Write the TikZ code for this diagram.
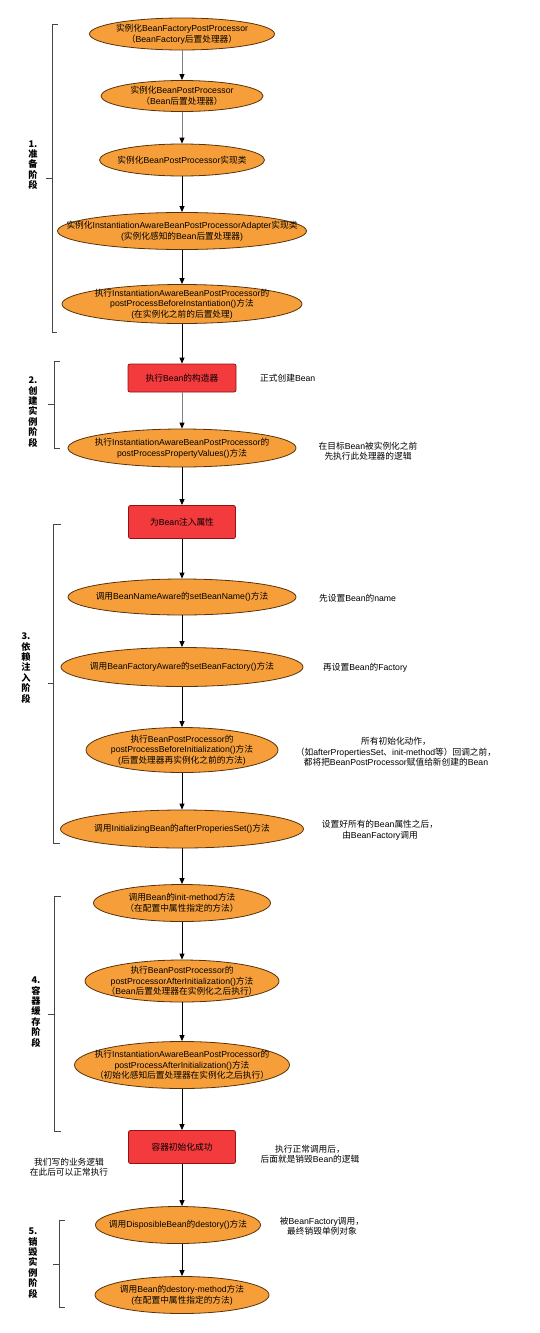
\documentclass[tikz,border=0pt]{standalone}
\usepackage{fontspec}
\usetikzlibrary{shapes.geometric,arrows.meta}
\setmainfont{Liberation Sans}
\newfontfamily\cjkfont{Noto Sans CJK SC}
\newcommand\zh[1]{{\cjkfont #1}}
\definecolor{ellfill}{RGB}{246,159,58}
\definecolor{ellborder}{RGB}{90,50,10}
\definecolor{redfill}{RGB}{243,58,60}
\definecolor{redborder}{RGB}{140,20,20}
\definecolor{brkcol}{RGB}{70,70,70}
\newcommand\txtfont{\fontsize{8.7}{10.6}\selectfont}
\newcommand\stagefont{\cjkfont\bfseries\fontsize{9.2}{10.4}\selectfont}
\tikzset{
  ell/.style={ellipse, draw=ellborder, fill=ellfill, line width=0.8pt, inner sep=0pt},
  redbox/.style={rectangle, rounded corners=2pt, draw=redborder, fill=redfill, line width=0.8pt, inner sep=0pt, font=\txtfont},
  txt/.style={align=center, font=\txtfont, inner sep=0pt, text=black},
  note/.style={align=center, font=\txtfont, inner sep=0pt, text=black},
  stage/.style={align=center, font=\stagefont, inner sep=0pt},
  brk/.style={draw=brkcol, line width=0.8pt},
  arr/.style={-{Triangle[width=5pt,length=6pt,color=black]}, line width=0.8pt, draw=black},
  garr/.style={arr, draw=gray},
}
\begin{document}
\begin{tikzpicture}[x=1pt,y=-1pt]
\useasboundingbox[fill=white] (0,0) rectangle (540,1333);

% stage 1
\node[ell, minimum width=185pt, minimum height=32pt, label={[txt]center:{\zh{实例化}BeanFactoryPostProcessor\\\zh{（}BeanFactory\zh{后置处理器）}}}] (e1) at (182,34) {};
\node[ell, minimum width=162pt, minimum height=31pt, label={[txt]center:{\zh{实例化}BeanPostProcessor\\\zh{（}Bean\zh{后置处理器）}}}] (e2) at (182,96) {};
\node[ell, minimum width=165pt, minimum height=32pt, label={[txt]center:{\zh{实例化}BeanPostProcessor\zh{实现类}}}] (e3) at (182,160) {};
\node[ell, minimum width=249pt, minimum height=37pt, label={[txt]center:{\zh{实例化}InstantiationAwareBeanPostProcessorAdapter\zh{实现类}\\(\zh{实例化感知的}Bean\zh{后置处理器})}}] (e4) at (182,231) {};
\node[ell, minimum width=240pt, minimum height=39pt, label={[txt]center:{\zh{执行}InstantiationAwareBeanPostProcessor\zh{的}\\postProcessBeforeInstantiation()\zh{方法}\\(\zh{在实例化之前的后置处理})}}] (e5) at (182,304) {};

% stage 2
\node[redbox, minimum width=108pt, minimum height=28pt] (r1) at (182,378) {\zh{执行}Bean\zh{的构造器}};
\node[note, anchor=west] (n1) at (260,378) {\zh{正式创建}Bean};
\node[ell, minimum width=228pt, minimum height=38pt, label={[txt]center:{\zh{执行}InstantiationAwareBeanPostProcessor\zh{的}\\postProcessPropertyValues()\zh{方法}}}] (e6) at (182,448) {};
\node[note] (n2) at (368,451) {\zh{在目标}Bean\zh{被实例化之前}\\\zh{先执行此处理器的逻辑}};

% stage 3
\node[redbox, minimum width=107pt, minimum height=33pt] (r2) at (182,522) {\zh{为}Bean\zh{注入属性}};
\node[ell, minimum width=228pt, minimum height=36pt, label={[txt]center:{\zh{调用}BeanNameAware\zh{的}setBeanName()\zh{方法}}}] (e7) at (182,597) {};
\node[note, anchor=west] (n3) at (319,598) {\zh{先设置}Bean\zh{的}name};
\node[ell, minimum width=242pt, minimum height=39pt, label={[txt]center:{\zh{调用}BeanFactoryAware\zh{的}setBeanFactory()\zh{方法}}}] (e8) at (182,667) {};
\node[note, anchor=west] (n4) at (323,668) {\zh{再设置}Bean\zh{的}Factory};
\node[ell, minimum width=192pt, minimum height=45pt, label={[txt]center:{\zh{执行}BeanPostProcessor\zh{的}\\postProcessBeforeInitialization()\zh{方法}\\(\zh{后置处理器再实例化之前的方法})}}] (e9) at (182,750) {};
\node[note] (n5) at (396,752) {\zh{所有初始化动作，}\\\zh{（如}afterPropertiesSet\zh{、}init-method\zh{等）回调之前，}\\\zh{都将把}BeanPostProcessor\zh{赋值给新创建的}Bean};
\node[ell, minimum width=243pt, minimum height=38pt, label={[txt]center:{\zh{调用}InitializingBean\zh{的}afterProperiesSet()\zh{方法}}}] (e10) at (182,829) {};
\node[note] (n6) at (380,830) {\zh{设置好所有的}Bean\zh{属性之后，}\\\zh{由}BeanFactory\zh{调用}};

% stage 4
\node[ell, minimum width=177pt, minimum height=37pt, label={[txt]center:{\zh{调用}Bean\zh{的}init-method\zh{方法}\\\zh{（在配置中属性指定的方法）}}}] (e11) at (182,903) {};
\node[ell, minimum width=194pt, minimum height=42pt, label={[txt]center:{\zh{执行}BeanPostProcessor\zh{的}\\postProcessorAfterInitialization()\zh{方法}\\\zh{（}Bean\zh{后置处理器在实例化之后执行）}}}] (e12) at (182,981) {};
\node[ell, minimum width=215pt, minimum height=47pt, label={[txt]center:{\zh{执行}InstantiationAwareBeanPostProcessor\zh{的}\\postProcessAfterInitialization()\zh{方法}\\\zh{（初始化感知后置处理器在实例化之后执行）}}}] (e13) at (182,1065) {};
\node[redbox, minimum width=107pt, minimum height=33pt] (r3) at (182,1147) {\zh{容器初始化成功}};
\node[note] (n7) at (69,1167) {\zh{我们写的业务逻辑}\\\zh{在此后可以正常执行}};
\node[note] (n8) at (310,1154) {\zh{执行正常调用后，}\\\zh{后面就是销毁}Bean\zh{的逻辑}};

% stage 5
\node[ell, minimum width=165pt, minimum height=37pt, label={[txt]center:{\zh{调用}DisposibleBean\zh{的}destory()\zh{方法}}}] (e14) at (178,1225) {};
\node[note] (n9) at (322,1226) {\zh{被}BeanFactory\zh{调用，}\\\zh{最终销毁单例对象}};
\node[ell, minimum width=174pt, minimum height=37pt, label={[txt]center:{\zh{调用}Bean\zh{的}destory-method\zh{方法}\\(\zh{在配置中属性指定的方法})}}] (e15) at (182,1295) {};

% connectors
\draw[garr] (e1) -- (e2);
\draw[garr] (e2) -- (e3);
\draw[arr] (e3) -- (e4);
\draw[arr] (e4) -- (e5);
\draw[arr] (e5) -- (r1);
\draw[garr] (r1) -- (e6);
\draw[arr] (e6) -- (r2);
\draw[arr] (r2) -- (e7);
\draw[arr] (e7) -- (e8);
\draw[arr] (e8) -- (e9);
\draw[arr] (e9) -- (e10);
\draw[arr] (e10) -- (e11);
\draw[arr] (e11) -- (e12);
\draw[arr] (e12) -- (e13);
\draw[arr] (e13) -- (r3);
\draw[arr] (r3) -- (e14.north -| r3);
\draw[arr] (e14.south -| e15) -- (e15);

% brackets and stage labels
\draw[brk] (58,24) -- (52,24) -- (52,332) -- (57,332);
\draw[brk] (52,178) -- (46,178);
\node[stage] (s1) at (33,165) {1.\\准\\备\\阶\\段};

\draw[brk] (60,361) -- (54,361) -- (54,448) -- (60,448);
\draw[brk] (54,404) -- (48,404);
\node[stage] (s2) at (33,412) {2.\\创\\建\\实\\例\\阶\\段};

\draw[brk] (61,524) -- (53,524) -- (53,843) -- (60,843);
\draw[brk] (53,683) -- (48,683);
\node[stage] (s3) at (26,668) {3.\\依\\赖\\注\\入\\阶\\段};

\draw[brk] (61,896) -- (54,896) -- (54,1131) -- (61,1131);
\draw[brk] (54,1014) -- (48,1014);
\node[stage] (s4) at (36,1012) {4.\\容\\器\\缓\\存\\阶\\段};

\draw[brk] (65,1220) -- (59,1220) -- (59,1307) -- (65,1307);
\draw[brk] (59,1264) -- (53,1264);
\node[stage] (s5) at (33,1263) {5.\\销\\毁\\实\\例\\阶\\段};
\end{tikzpicture}
\end{document}
